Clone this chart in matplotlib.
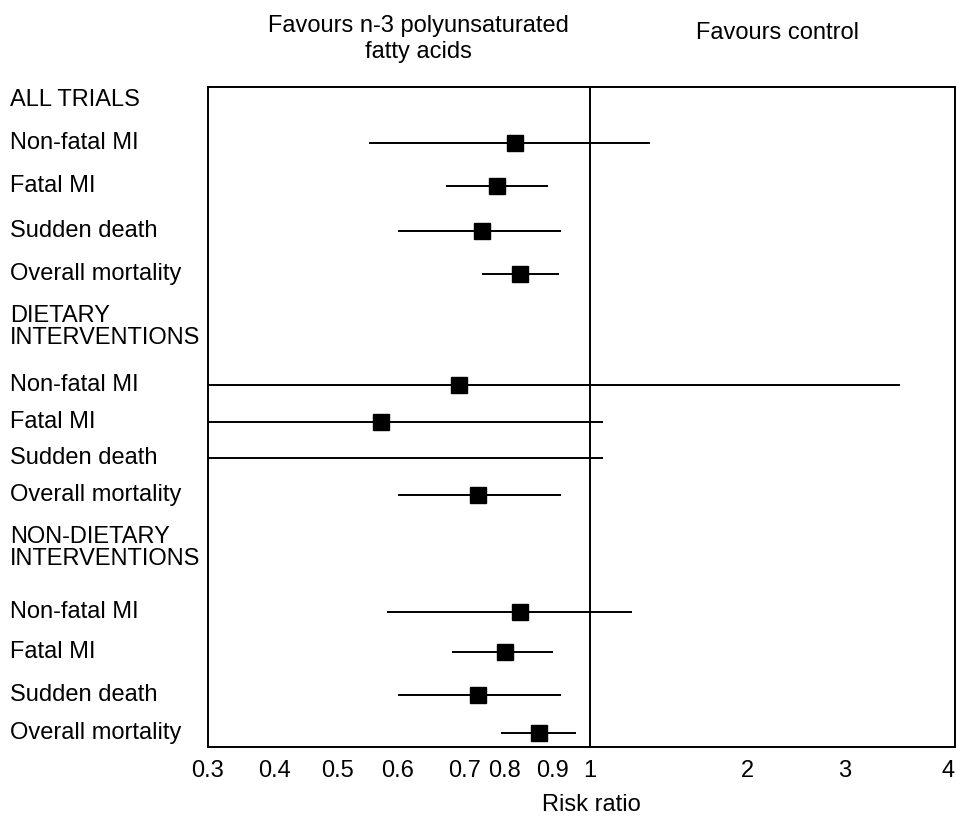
import numpy as np
import matplotlib
matplotlib.use("Agg")
import matplotlib.pyplot as plt
import matplotlib.transforms as mtransforms

plt.rcParams['font.family'] = ['Liberation Sans', 'DejaVu Sans']

# ---------------- data ----------------
outcomes = ["Non-fatal MI", "Fatal MI", "Sudden death", "Overall mortality"]
groups = ["ALL TRIALS", "DIETARY\nINTERVENTIONS", "NON-DIETARY\nINTERVENTIONS"]

all_rr = [0.82, 0.78, 0.74, 0.83]
all_lo = [0.55, 0.67, 0.60, 0.74]
all_hi = [1.30, 0.89, 0.92, 0.915]

diet_rr = [0.69, 0.57, np.nan, 0.73]
diet_lo = [0.25, 0.25, 0.25, 0.60]
diet_hi = [3.50, 1.06, 1.06, 0.92]

nondiet_rr = [0.83, 0.80, 0.73, 0.87]
nondiet_lo = [0.58, 0.68, 0.60, 0.79]
nondiet_hi = [1.20, 0.90, 0.92, 0.96]

tick_values = [0.3, 0.4, 0.5, 0.6, 0.7, 0.8, 0.9, 1, 2, 3, 4]
tick_labels = ["0.3", "0.4", "0.5", "0.6", "0.7", "0.8", "0.9", "1", "2", "3", "4"]

# ---------------- layout ----------------
# axis scale of the original figure (label anchors, irregular log-like spacing)
scale_anchor_pos = [208, 275, 338, 398, 465, 505, 553, 590, 748, 845, 948]
log_anchor = np.log10(tick_values)
pos_anchor = np.array(scale_anchor_pos, dtype=float)


def forward(v):
    lv = np.log10(np.clip(np.asarray(v, dtype=float), 1e-6, None))
    out = np.interp(lv, log_anchor, pos_anchor)
    s0 = (pos_anchor[1] - pos_anchor[0]) / (log_anchor[1] - log_anchor[0])
    s1 = (pos_anchor[-1] - pos_anchor[-2]) / (log_anchor[-1] - log_anchor[-2])
    out = np.where(lv < log_anchor[0], pos_anchor[0] + (lv - log_anchor[0]) * s0, out)
    out = np.where(lv > log_anchor[-1], pos_anchor[-1] + (lv - log_anchor[-1]) * s1, out)
    return out


def inverse(p):
    p = np.asarray(p, dtype=float)
    lv = np.interp(p, pos_anchor, log_anchor)
    s0 = (log_anchor[1] - log_anchor[0]) / (pos_anchor[1] - pos_anchor[0])
    s1 = (log_anchor[-1] - log_anchor[-2]) / (pos_anchor[-1] - pos_anchor[-2])
    lv = np.where(p < pos_anchor[0], log_anchor[0] + (p - pos_anchor[0]) * s0, lv)
    lv = np.where(p > pos_anchor[-1], log_anchor[-1] + (p - pos_anchor[-1]) * s1, lv)
    return 10 ** lv


# vertical positions of rows (layout units: top=87, bottom=747)
group_header_y = [100, 327, 548]
row_y = [[143, 186, 231, 274],
         [385, 422, 458, 495],
         [612, 652, 695, 733]]

FS = 17
W, H = 957, 821
fig = plt.figure(figsize=(W / 100, H / 100), dpi=100)
ax = fig.add_axes([208 / W, 1 - 747 / H, (955 - 208) / W, (747 - 87) / H])
ax.set_xscale('function', functions=(forward, inverse))
ax.set_xlim(0.3, 4.08)
ax.set_ylim(747, 87)

series = [(all_rr, all_lo, all_hi), (diet_rr, diet_lo, diet_hi),
          (nondiet_rr, nondiet_lo, nondiet_hi)]

for g, (rr, lo, hi) in enumerate(series):
    for i in range(len(outcomes)):
        y = row_y[g][i]
        ax.plot([lo[i], hi[i]], [y, y], color='black', lw=1.4, solid_capstyle='butt')
        if not np.isnan(rr[i]):
            ax.plot([rr[i]], [y], marker='s', ms=12, color='black', mec='black')

ax.axvline(1, color='black', lw=1.4)

ax.set_xticks(tick_values)
ax.set_xticklabels(tick_labels, fontsize=FS)
ax.xaxis.set_minor_locator(matplotlib.ticker.NullLocator())
ax.tick_params(axis='x', length=0, pad=9)
ax.set_yticks([])
for sp in ax.spines.values():
    sp.set_linewidth(1.4)
    sp.set_color('black')

# left labels
trans = mtransforms.blended_transform_factory(fig.transFigure, ax.transData)
for g, name in enumerate(groups):
    ax.text(10 / W, group_header_y[g], name, transform=trans,
            ha='left', va='center', fontsize=FS, linespacing=1.05)
    for i, oc in enumerate(outcomes):
        ax.text(10 / W, row_y[g][i], oc, transform=trans, ha='left',
                va='center', fontsize=FS)

fig.text(418 / W, 1 - 39 / H, "Favours n-3 polyunsaturated\nfatty acids",
         ha='center', va='center', fontsize=FS, linespacing=1.25)
fig.text(778 / W, 1 - 33 / H, "Favours control", ha='center', va='center',
         fontsize=FS)
fig.text(591 / W, 1 - 805 / H, "Risk ratio", ha='center', va='center',
         fontsize=FS)

fig.savefig("out.png", dpi=100)
